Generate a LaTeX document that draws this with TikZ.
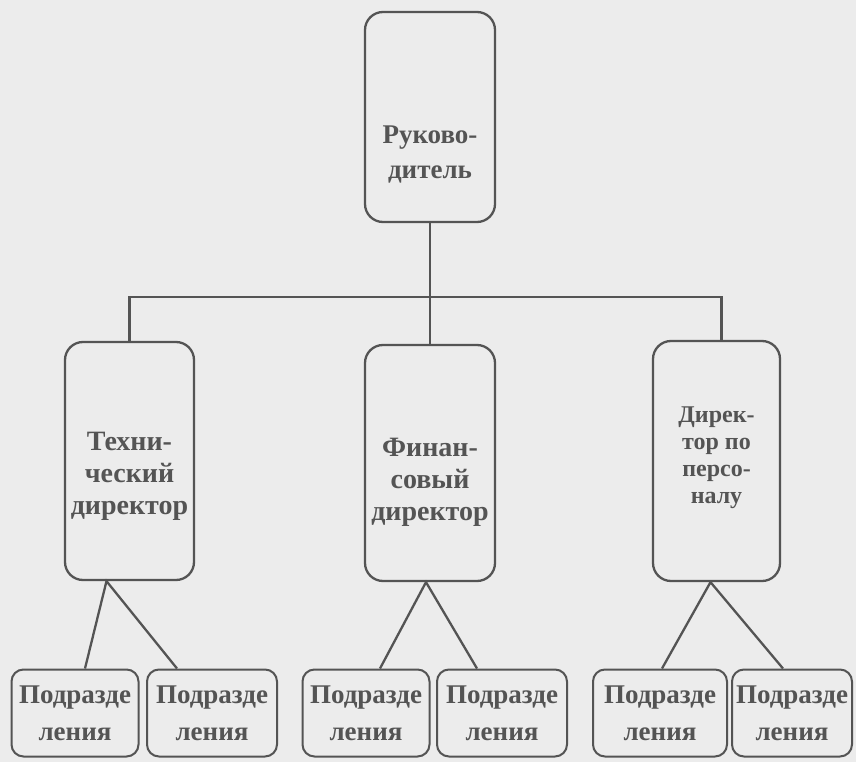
\documentclass[tikz,border=0pt]{standalone}
\usepackage{fontspec}
\setmainfont{Liberation Serif}
\usetikzlibrary{calc}

\definecolor{paper}{RGB}{236,236,236}
\definecolor{ink}{RGB}{84,84,84}

\tikzset{
  post/.style={draw=ink, line width=2.3pt, rounded corners=18pt, inner sep=0pt},
  caption/.style={align=center, inner sep=0pt, text=ink,
    font=\bfseries\fontsize{28}{32}\selectfont},
  unit/.style={draw=ink, line width=2pt, rounded corners=12pt, align=center,
    inner sep=0pt, minimum height=87pt, text=ink,
    font=\bfseries\fontsize{27}{37}\selectfont},
  link/.style={draw=ink, line width=2.3pt}
}

\begin{document}
\begin{tikzpicture}[x=1pt,y=-1pt]
  \fill[paper] (0,0) rectangle (856,762);
  \useasboundingbox (0,0) rectangle (856,762);

  % head
  \node[post, minimum width=130pt, minimum height=210pt,
    label={[caption, font=\bfseries\fontsize{27}{35}\selectfont, yshift=-38pt]center:Руково-\\дитель}] (boss) at (430,117) {};

  % directors
  \node[post, minimum width=129pt, minimum height=238pt,
    label={[caption, yshift=-15pt]center:Техни-\\ческий\\директор}] (tech) at (129.5,461) {};
  \node[post, minimum width=130pt, minimum height=236pt,
    label={[caption, yshift=-19pt]center:Финан-\\совый\\директор}] (fin) at (430,463) {};
  \node[post, minimum width=127pt, minimum height=240pt,
    label={[caption, font=\bfseries\fontsize{24}{27}\selectfont, yshift=3pt]center:Дирек-\\тор по\\персо-\\налу}] (hr) at (716.5,461) {};

  % departments
  \node[unit, minimum width=127pt] (dep1) at (75,713)  {Подразде\\ления};
  \node[unit, minimum width=130pt] (dep2) at (212,713) {Подразде\\ления};
  \node[unit, minimum width=127pt] (dep3) at (366,713) {Подразде\\ления};
  \node[unit, minimum width=130pt] (dep4) at (502,713) {Подразде\\ления};
  \node[unit, minimum width=134pt] (dep5) at (660,713) {Подразде\\ления};
  \node[unit, minimum width=120pt] (dep6) at (792,713) {Подразде\\ления};

  \coordinate (bus) at (430,297);

  \draw[link] (boss.south) -- (bus);
  \draw[link] (fin.north) -- (bus);
  \draw[link] (tech.north) |- (bus);
  \draw[link] ([xshift=5pt]hr.north) |- (bus);

  \draw[link] ([xshift=10pt]dep1.north) -- ([xshift=-23pt]tech.south) -- ([xshift=-35pt]dep2.north);
  \draw[link] ([xshift=14pt]dep3.north) -- ([xshift=-4pt]fin.south) -- ([xshift=-25pt]dep4.north);
  \draw[link] ([xshift=2pt]dep5.north) -- ([xshift=-6pt]hr.south) -- ([xshift=-9pt]dep6.north);
\end{tikzpicture}
\end{document}
